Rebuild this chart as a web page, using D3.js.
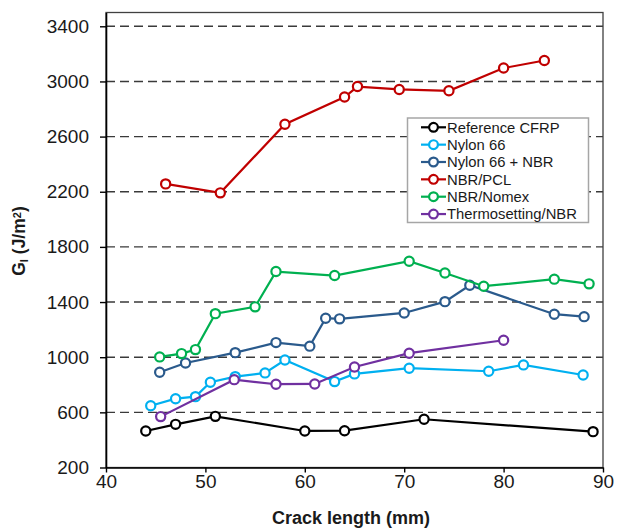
<!DOCTYPE html>
<html>
<head>
<meta charset="utf-8">
<script src="https://cdn.jsdelivr.net/npm/d3@7"></script>
<style>
  body { margin: 0; background: #fff; }
  svg { font-family: "Liberation Sans", Arial, sans-serif; }
</style>
</head>
<body>
<div id="container"></div>
<script>
// Chart data
var seriesNames = ['Reference CFRP', 'Nylon 66', 'Nylon 66 + NBR', 'NBR/PCL', 'NBR/Nomex', 'Thermosetting/NBR'];
var seriesColors = ['#000000', '#00b0f0', '#2a5a8c', '#c00000', '#00b050', '#7030a0'];

var refCfrpX = [44, 47, 51, 60, 64, 72, 89];
var refCfrpY = [465, 513, 571, 465, 467, 550, 460];

var nylonX = [44.5, 47, 49, 50.5, 53, 56, 58, 63, 65, 70.5, 78.5, 82, 88];
var nylonY = [648, 699, 714, 818, 859, 886, 980, 823, 879, 920, 898, 944, 871];

var nylonNbrX = [45.4, 48, 53, 57.1, 60.5, 62.1, 63.5, 70, 74.1, 76.6, 85.1, 88.1];
var nylonNbrY = [891, 958, 1033, 1106, 1080, 1283, 1278, 1321, 1403, 1522, 1312, 1294];

var nbrPclX = [46, 51.5, 58, 64, 65.3, 69.5, 74.5, 80, 84.1];
var nbrPclY = [2257, 2192, 2690, 2887, 2963, 2942, 2932, 3097, 3152];

var nbrNomexX = [45.4, 47.6, 49, 51, 55, 57.1, 63, 70.5, 74.1, 78, 85.1, 88.6];
var nbrNomexY = [1002, 1026, 1055, 1316, 1365, 1621, 1592, 1696, 1611, 1515, 1566, 1532];

var thermoNbrX = [45.5, 52.9, 57.1, 61, 65, 70.5, 80];
var thermoNbrY = [569, 837, 804, 806, 929, 1029, 1123];

var xTicks = [40, 50, 60, 70, 80, 90];
var yTicks = [200, 600, 1000, 1400, 1800, 2200, 2600, 3000, 3400];

var allX = [refCfrpX, nylonX, nylonNbrX, nbrPclX, nbrNomexX, thermoNbrX];
var allY = [refCfrpY, nylonY, nylonNbrY, nbrPclY, nbrNomexY, thermoNbrY];

// Basic layout
var width = 617;
var height = 530;
var margin = { top: 12.5, right: 14, bottom: 62.5, left: 106 };

var svg = d3.select('#container').append('svg')
  .attr('width', width)
  .attr('height', height);

var x = d3.scaleLinear().domain([40, 90]).range([margin.left, width - margin.right]);
var y = d3.scaleLinear().domain([200, 3500]).range([height - margin.bottom, margin.top]);

// dashed gridlines
svg.append('g').selectAll('line')
  .data(yTicks.slice(1))
  .enter().append('line')
  .attr('x1', x(40))
  .attr('x2', x(90))
  .attr('y1', function(d) { return y(d); })
  .attr('y2', function(d) { return y(d); })
  .attr('stroke', '#3a3a3a')
  .attr('stroke-width', 1.4)
  .attr('stroke-dasharray', '9,5');

// plot frame
svg.append('rect')
  .attr('x', x(40))
  .attr('y', y(3500))
  .attr('width', x(90) - x(40))
  .attr('height', y(200) - y(3500))
  .attr('fill', 'none')
  .attr('stroke', '#404040')
  .attr('stroke-width', 1.3);

// axes
var xAxis = svg.append('g')
  .attr('transform', 'translate(0,' + y(200) + ')')
  .call(d3.axisBottom(x).tickValues(xTicks).tickFormat(d3.format('d'))
    .tickSizeInner(5).tickSizeOuter(0).tickPadding(2));

var yAxis = svg.append('g')
  .attr('transform', 'translate(' + x(40) + ',0)')
  .call(d3.axisLeft(y).tickValues(yTicks).tickFormat(d3.format('d'))
    .tickSizeInner(6).tickSizeOuter(0).tickPadding(11));

[xAxis, yAxis].forEach(function(ax) {
  ax.select('.domain').attr('stroke', '#000').attr('stroke-width', 1.6);
  ax.selectAll('.tick line').attr('stroke', '#000').attr('stroke-width', 1.4);
  ax.selectAll('.tick text')
    .attr('fill', '#1a1a1a')
    .style('font-size', '19px')
    .style('font-family', '"Liberation Sans", Arial, sans-serif');
});

// series lines and markers
var line = d3.line()
  .x(function(d) { return x(d[0]); })
  .y(function(d) { return y(d[1]); });

for (var i = 0; i < seriesNames.length; i++) {
  var pts = allX[i].map(function(v, j) { return [v, allY[i][j]]; });
  var g = svg.append('g');
  g.append('path')
    .attr('d', line(pts))
    .attr('fill', 'none')
    .attr('stroke', seriesColors[i])
    .attr('stroke-width', 2.2);
  g.selectAll('circle')
    .data(pts)
    .enter().append('circle')
    .attr('cx', function(d) { return x(d[0]); })
    .attr('cy', function(d) { return y(d[1]); })
    .attr('r', 4.6)
    .attr('fill', '#fff')
    .attr('stroke', seriesColors[i])
    .attr('stroke-width', 2.2);
}

// legend
var legend = svg.append('g');
legend.append('rect')
  .attr('x', 407.5)
  .attr('y', 118)
  .attr('width', 181)
  .attr('height', 104.5)
  .attr('fill', '#fff')
  .attr('stroke', '#a6a6a6')
  .attr('stroke-width', 1.5);

var rows = legend.selectAll('g.row')
  .data(seriesNames)
  .enter().append('g')
  .attr('class', 'row')
  .attr('transform', function(d, k) { return 'translate(0,' + (127.3 + k * 17.35) + ')'; });

rows.append('line')
  .attr('x1', 421).attr('x2', 446)
  .attr('y1', 0).attr('y2', 0)
  .attr('stroke', function(d, k) { return seriesColors[k]; })
  .attr('stroke-width', 2.2);

rows.append('circle')
  .attr('cx', 433.5).attr('cy', 0)
  .attr('r', 4.4)
  .attr('fill', '#fff')
  .attr('stroke', function(d, k) { return seriesColors[k]; })
  .attr('stroke-width', 2.2);

rows.append('text')
  .attr('x', 447)
  .attr('y', 0)
  .attr('dy', '0.36em')
  .attr('fill', '#1a1a1a')
  .style('font-size', '14.8px')
  .text(function(d) { return d; });

// axis titles
svg.append('text')
  .attr('x', 351)
  .attr('y', 524)
  .attr('text-anchor', 'middle')
  .style('font-size', '18px')
  .style('font-weight', 'bold')
  .attr('fill', '#1a1a1a')
  .text('Crack length (mm)');

var yTitle = svg.append('text')
  .attr('transform', 'translate(25,241) rotate(-90)')
  .attr('text-anchor', 'middle')
  .style('font-size', '17.5px')
  .style('font-weight', 'bold')
  .attr('fill', '#1a1a1a');
yTitle.append('tspan').text('G');
yTitle.append('tspan').attr('baseline-shift', '-25%').style('font-size', '11px').text('I');
yTitle.append('tspan').text(' (J/m');
yTitle.append('tspan').attr('baseline-shift', '40%').style('font-size', '11px').text('2');
yTitle.append('tspan').text(')');
</script>
</body>
</html>
